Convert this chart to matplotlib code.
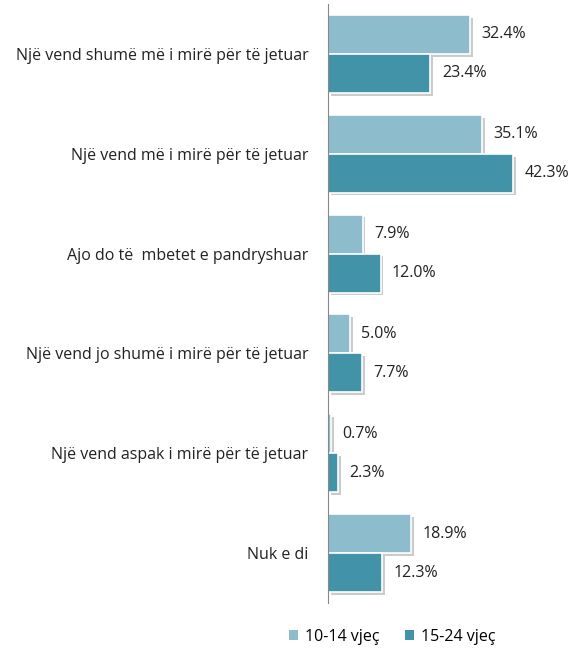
import matplotlib
matplotlib.use("Agg")
import matplotlib.pyplot as plt
import matplotlib.patheffects as pe
import numpy as np

categories = ["Një vend shumë më i mirë për të jetuar",
              "Një vend më i mirë për të jetuar",
              "Ajo do të  mbetet e pandryshuar",
              "Një vend jo shumë i mirë për të jetuar",
              "Një vend aspak i mirë për të jetuar",
              "Nuk e di"]
series_names = ["10-14 vjeç", "15-24 vjeç"]
s1 = [32.4, 35.1, 7.9, 5.0, 0.7, 18.9]
s2 = [23.4, 42.3, 12.0, 7.7, 2.3, 12.3]
colors = ["#8DBDCD", "#4393A8"]

plt.rcParams['font.family'] = ['Open Sans', 'DejaVu Sans']
fig = plt.figure(figsize=(5.74, 6.48), dpi=100)
ax = fig.add_axes([328/574, 1-603/648, 1-328/574, (603-4)/648])

n = len(categories)
y = np.arange(n)
h = 0.39
shadow = [pe.SimplePatchShadow(offset=(2, -2), shadow_rgbFace='#999999', alpha=0.5), pe.Normal()]
for vals, off, c, name in [(s1, -h/2, colors[0], series_names[0]), (s2, h/2, colors[1], series_names[1])]:
    bars = ax.barh(y + off, vals, height=h, color=c, edgecolor='white', linewidth=1.2, label=name)
    for b in bars:
        b.set_path_effects(shadow)
    for yi, v in zip(y + off, vals):
        ax.text(v + 2.6, yi, f"{v:.1f}%", va='center', ha='left', fontsize=11.5, color='#222222')

ax.set_ylim(n - 0.5, -0.5)
ax.set_xlim(0, (574-328)/4.38)
ax.set_yticks(y)
ax.set_yticklabels(categories, fontsize=11.5, color='#222222')
ax.tick_params(axis='y', length=0, pad=14)
ax.set_xticks([])
for s in ['top', 'right', 'bottom']:
    ax.spines[s].set_visible(False)
ax.spines['left'].set_color('#888888')

handles, labels = ax.get_legend_handles_labels()
leg = fig.legend(handles, labels, loc='center', bbox_to_anchor=(392/574, 1-637/648), ncol=2,
                 frameon=False, fontsize=11.5, handlelength=0.6, handleheight=0.6, columnspacing=1.6, handletextpad=0.4)
for hd in leg.legend_handles:
    hd.set_path_effects([])
    hd.set_edgecolor('none')

fig.savefig("out.png", dpi=100)
